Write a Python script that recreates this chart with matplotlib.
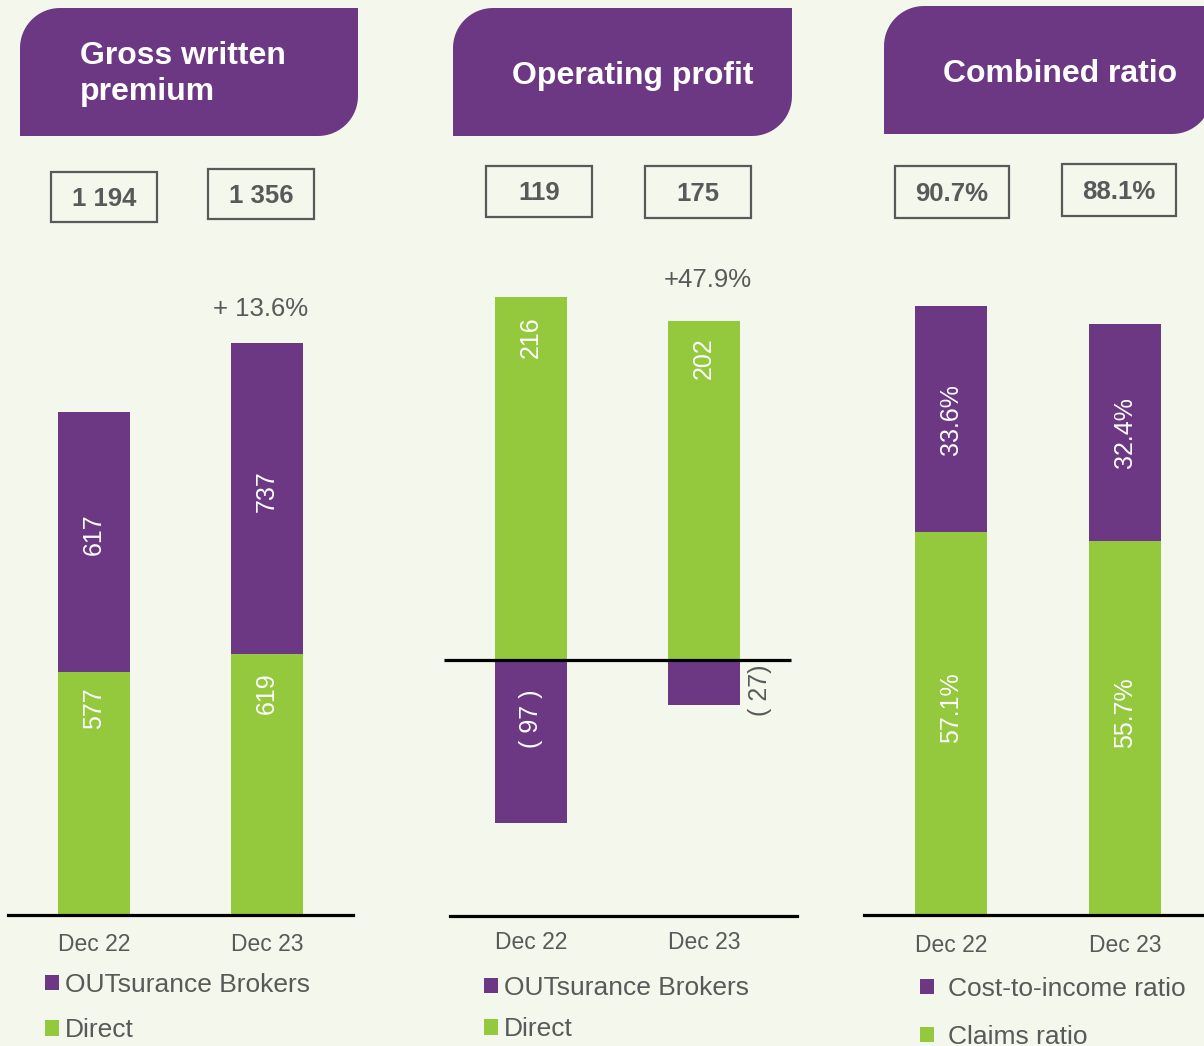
import matplotlib
matplotlib.use('Agg')
import matplotlib.pyplot as plt
from matplotlib.patches import Polygon, Rectangle
import numpy as np

plt.rcParams['font.family'] = ['Liberation Sans', 'DejaVu Sans']

## Datos
categories = ['Dec 22', 'Dec 23']
gwp_direct = [577, 619]
gwp_brokers = [617, 737]
op_direct = [216, 202]
op_brokers = [-97, -27]
op_broker_labels = ['( 97 )', '( 27)']
claims_ratio = [57.1, 55.7]
cost_income_ratio = [33.6, 32.4]
gwp_growth = '+ 13.6%'
op_growth = '+47.9%'

W, H = 1204, 1046
BG = '#F4F7EC'
PURPLE = '#6C3883'
GREEN = '#94C83D'
GREY = '#595959'

fig = plt.figure(figsize=(W / 100, H / 100), dpi=100, facecolor=BG)


def fig_rect(l, t, r, b):
    # pixeles (y hacia abajo) -> fraccion de figura
    return [l / W, 1 - b / H, (r - l) / W, (b - t) / H]


def header(l, t, r, b, text, tx, ty, ha, rad=40):
    a1 = np.linspace(np.pi, 1.5 * np.pi, 20)
    a2 = np.linspace(0, 0.5 * np.pi, 20)
    pts = [(l, b), (l, t + rad)]
    pts += [(l + rad + rad * np.cos(a), t + rad + rad * np.sin(a)) for a in a1]
    pts += [(r, t), (r, b - rad)]
    pts += [(r - rad + rad * np.cos(a), b - rad + rad * np.sin(a)) for a in a2]
    pts = [(x / W, 1 - y / H) for x, y in pts]
    fig.patches.append(Polygon(pts, closed=True, transform=fig.transFigure,
                               facecolor=PURPLE, edgecolor='none'))
    fig.text(tx / W, 1 - ty / H, text, ha=ha, va='center',
             color='white', fontsize=23, fontweight='bold', linespacing=1.3)


def value_box(l, t, r, b, text):
    fig.patches.append(Rectangle((l / W, 1 - b / H), (r - l) / W, (b - t) / H,
                                 transform=fig.transFigure, facecolor='none',
                                 edgecolor=GREY, lw=1.6))
    fig.text((l + r) / 2 / W, 1 - ((t + b) / 2 + 2) / H, text, ha='center',
             va='center', color=GREY, fontsize=18.5, fontweight='bold')


def setup(ax, xlim, pad=13):
    ax.set_facecolor('none')
    ax.set_xlim(xlim)
    ax.set_xticks([0, 1])
    ax.set_xticklabels(categories, fontsize=16.5, color=GREY)
    ax.tick_params(axis='x', length=0, pad=pad)
    ax.set_yticks([])
    for s in ['top', 'right', 'left']:
        ax.spines[s].set_visible(False)
    ax.spines['bottom'].set_linewidth(2.3)
    ax.spines['bottom'].set_color('black')


x = np.arange(len(categories))

# ---- Panel 1: Gross written premium
header(20, 8, 358, 136, 'Gross written\npremium', 80, 74, 'left')
gwp_tot = [a + b for a, b in zip(gwp_direct, gwp_brokers)]
value_box(51, 172, 157, 222, f'{gwp_tot[0]:,}'.replace(',', ' '))
value_box(208, 169, 314, 219, f'{gwp_tot[1]:,}'.replace(',', ' '))

s1 = 0.4215
ax1 = fig.add_axes(fig_rect(8, 915 - 1600 * s1, 353, 915))
ax1.set_ylim(0, 1600)
setup(ax1, (-0.497, 1.497))
g1 = ax1.bar(x, gwp_direct, 0.416, color=GREEN)
p1 = ax1.bar(x, gwp_brokers, 0.416, bottom=gwp_direct, color=PURPLE)
for i in x:
    ax1.text(i, gwp_direct[i] * 0.85, str(gwp_direct[i]), rotation=90,
             ha='center', va='center', color='white', fontsize=18)
    ax1.text(i, gwp_direct[i] + gwp_brokers[i] / 2 + 18, str(gwp_brokers[i]),
             rotation=90, ha='center', va='center', color='white', fontsize=18)
ax1.annotate(gwp_growth, (1, gwp_tot[1]), xytext=(-5, 25), textcoords='offset points',
             ha='center', va='center', color=GREY, fontsize=18.5)
ax1.legend([p1, g1], ['OUTsurance Brokers', 'Direct'], loc='upper left',
           bbox_to_anchor=(45 / W, 1 - 973 / H), bbox_transform=fig.transFigure,
           frameon=False, fontsize=19, handlelength=0.53, handleheight=0.53,
           handletextpad=0.23, labelspacing=0.8, borderpad=0, borderaxespad=0,
           labelcolor=GREY)

# ---- Panel 2: Operating profit
header(453, 8, 792, 136, 'Operating profit', 633, 76, 'center')
op_tot = [a + b for a, b in zip(op_direct, op_brokers)]
value_box(486, 166, 592, 217, str(op_tot[0]))
value_box(645, 166, 751, 218, str(op_tot[1]))

s2 = 1.68
ymin2 = -(916 - 660) / s2
ymax2 = 250
ax2 = fig.add_axes(fig_rect(450, 916 - (ymax2 - ymin2) * s2, 797, 916))
ax2.set_ylim(ymin2, ymax2)
setup(ax2, (-0.468, 1.538), pad=11)
g2 = ax2.bar(x, op_direct, 0.416, color=GREEN)
p2 = ax2.bar(x, op_brokers, 0.416, color=PURPLE)
ax2.hlines(0, -0.503, 1.503, color='black', lw=2.3, clip_on=False, zorder=3)
for i in x:
    ax2.text(i, op_direct[i] * 0.89, str(op_direct[i]), rotation=90,
             ha='center', va='center', color='white', fontsize=18)
ax2.text(0, op_brokers[0] * 0.36, op_broker_labels[0], rotation=90,
         ha='center', va='center', color='white', fontsize=18)
ax2.text(1.324, op_brokers[1] * 0.66, op_broker_labels[1], rotation=90,
         ha='center', va='center', color=GREY, fontsize=18)
ax2.annotate(op_growth, (1, op_direct[1]), xytext=(3, 29), textcoords='offset points',
             ha='center', va='center', color=GREY, fontsize=18.5)
ax2.legend([p2, g2], ['OUTsurance Brokers', 'Direct'], loc='upper left',
           bbox_to_anchor=(484 / W, 1 - 976 / H), bbox_transform=fig.transFigure,
           frameon=False, fontsize=19, handlelength=0.53, handleheight=0.53,
           handletextpad=0.23, labelspacing=0.65, borderpad=0, borderaxespad=0,
           labelcolor=GREY)

# ---- Panel 3: Combined ratio
header(884, 6, 1212, 134, 'Combined ratio', 1060, 74, 'center')
cr_tot = [a + b for a, b in zip(claims_ratio, cost_income_ratio)]
value_box(895, 166, 1009, 218, f'{cr_tot[0]:.1f}%')
value_box(1062, 164, 1176, 216, f'{cr_tot[1]:.1f}%')

s3 = 6.71
ax3 = fig.add_axes(fig_rect(864, 915 - 100 * s3, 1204, 915))
ax3.set_ylim(0, 100)
setup(ax3, (-0.5, 1.454), pad=14)
g3 = ax3.bar(x, claims_ratio, 0.414, color=GREEN)
p3 = ax3.bar(x, cost_income_ratio, 0.414, bottom=claims_ratio, color=PURPLE)
for i in x:
    ax3.text(i, claims_ratio[i] * 0.54, f'{claims_ratio[i]}%', rotation=90,
             ha='center', va='center', color='white', fontsize=18)
    ax3.text(i, claims_ratio[i] + cost_income_ratio[i] / 2, f'{cost_income_ratio[i]}%',
             rotation=90, ha='center', va='center', color='white', fontsize=18)
ax3.legend([p3, g3], ['Cost-to-income ratio', 'Claims ratio'], loc='upper left',
           bbox_to_anchor=(920 / W, 1 - 977 / H), bbox_transform=fig.transFigure,
           frameon=False, fontsize=19, handlelength=0.53, handleheight=0.53,
           handletextpad=0.53, labelspacing=0.91, borderpad=0, borderaxespad=0,
           labelcolor=GREY)

fig.savefig('out.png', dpi=100, facecolor=BG)
